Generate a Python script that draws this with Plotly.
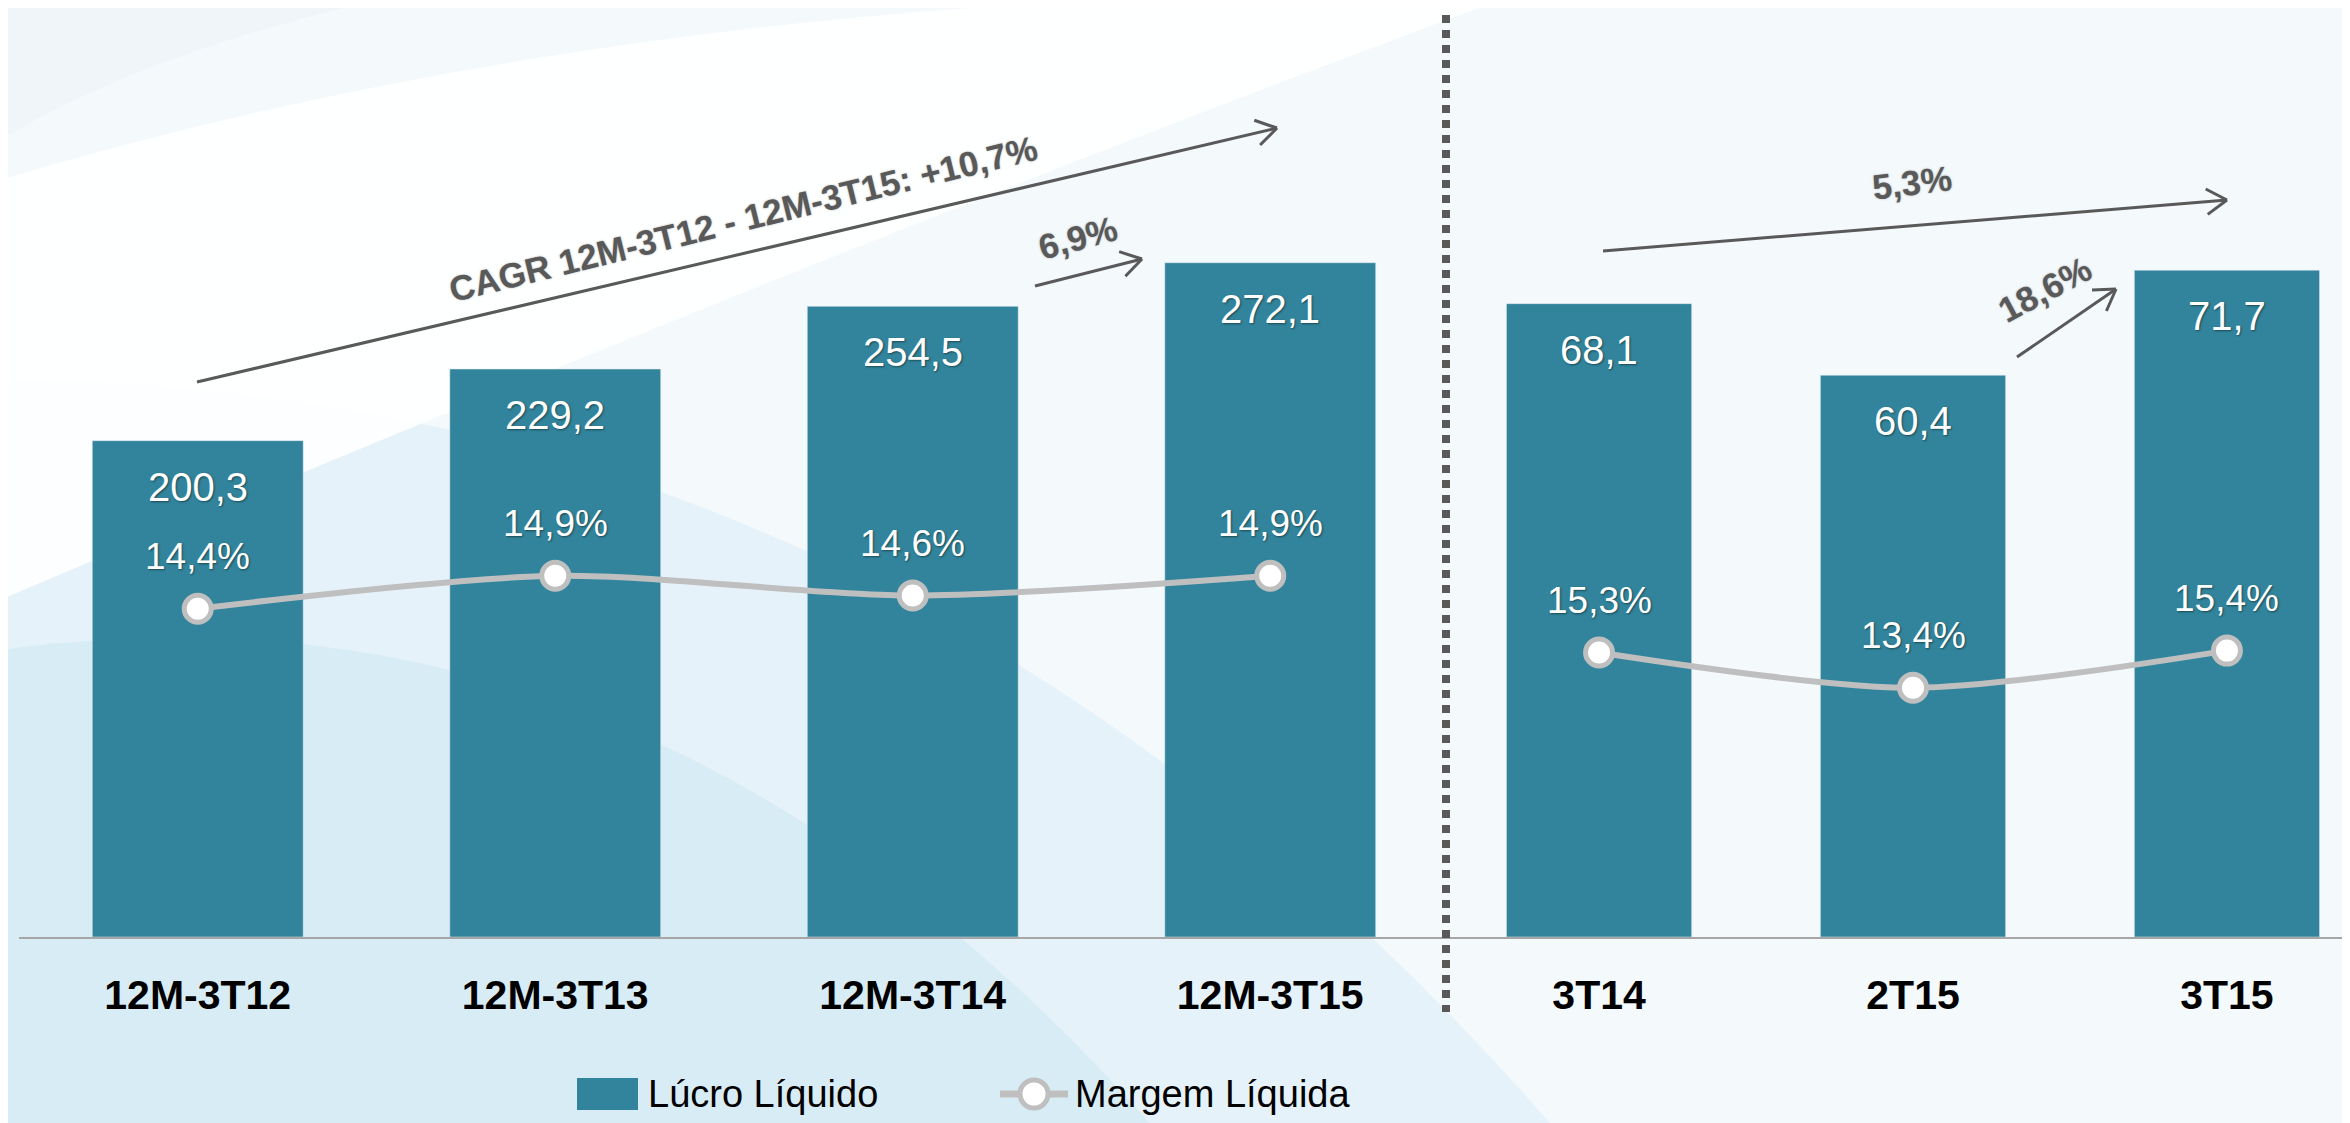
import math
import plotly.graph_objects as go

# ---------------- data ----------------
cats_12m = ["12M-3T12", "12M-3T13", "12M-3T14", "12M-3T15"]
lucro_12m = [200.3, 229.2, 254.5, 272.1]
margem_12m = [14.4, 14.9, 14.6, 14.9]

cats_tri = ["3T14", "2T15", "3T15"]
lucro_tri = [68.1, 60.4, 71.7]
margem_tri = [15.3, 13.4, 15.4]

growth_labels = ["CAGR 12M-3T12 - 12M-3T15: +10,7%", "6,9%", "5,3%", "18,6%"]
legend_names = ["Lúcro Líquido", "Margem Líquida"]

# ---------------- styling ----------------
OFF = 8                        # page body margin
W, H = 2350 - OFF, 1123 - OFF  # figure size
TOP, BASE = 60, 937            # plot top / baseline in page px
PH = BASE - TOP
BAR_COLOR = "#31849b"
LINE_COLOR = "#bfbfbf"
GRAY_TXT = "#595959"
FONT = "Liberation Sans, Arial, sans-serif"


def fmt(v, pct=False):
    s = f"{v:.1f}".replace(".", ",")
    return s + "%" if pct else s


def px2p(x, y):
    """page px -> paper coords"""
    return (x - OFF) / W, (BASE - y) / PH


fig = go.Figure()
line_style = dict(color=LINE_COLOR, width=6, shape="spline", smoothing=0.8)
marker_style = dict(size=27, color="white", line=dict(color=LINE_COLOR, width=5))

fig.add_trace(go.Bar(x=cats_12m, y=lucro_12m, marker_color=BAR_COLOR,
                     name=legend_names[0], xaxis="x", yaxis="y", showlegend=False))
fig.add_trace(go.Scatter(x=cats_12m, y=margem_12m, mode="lines+markers",
                         name=legend_names[1], xaxis="x", yaxis="y2", showlegend=False,
                         line=line_style, marker=marker_style))
fig.add_trace(go.Bar(x=cats_tri, y=lucro_tri, marker_color=BAR_COLOR,
                     name=legend_names[0], xaxis="x2", yaxis="y3", showlegend=False))
fig.add_trace(go.Scatter(x=cats_tri, y=margem_tri, mode="lines+markers",
                         name=legend_names[1], xaxis="x2", yaxis="y4", showlegend=False,
                         line=line_style, marker=marker_style))

split = (1449 - OFF) / W
axis_common = dict(showgrid=False, zeroline=False, showline=True, linecolor="#a6a6a6",
                   linewidth=2, ticks="", ticklabelstandoff=21,
                   tickfont=dict(family=FONT, size=41, color="black", weight="bold"))
yhide = dict(showgrid=False, zeroline=False, showline=False, showticklabels=False)

fig.update_layout(
    width=W, height=H,
    margin=dict(l=0, r=0, t=TOP - OFF, b=H - (BASE - OFF)),
    paper_bgcolor="#f4f9fc", plot_bgcolor="rgba(0,0,0,0)",
    bargap=0.41,
    xaxis=dict(domain=[(19 - OFF) / W, split], range=[-0.5, 3.5], **axis_common),
    xaxis2=dict(domain=[split, 1.0], range=[-0.478, 2.392], **axis_common),
    yaxis=dict(anchor="x", range=[0, PH / 2.478], **yhide),
    yaxis2=dict(anchor="x", overlaying="y", range=[9.41, 22.74], **yhide),
    yaxis3=dict(anchor="x2", range=[0, PH / 9.30], **yhide),
    yaxis4=dict(anchor="x2", overlaying="y3", range=[0, 47.16], **yhide),
    showlegend=False,
)

# ---------------- value labels ----------------
shadow = "1px 1px 2px rgba(0,0,0,0.45)"
ann = []
for xs, ys, xr, yr in ((cats_12m, lucro_12m, "x", "y"), (cats_tri, lucro_tri, "x2", "y3")):
    for c, v in zip(xs, ys):
        ann.append(dict(x=c, y=v, xref=xr, yref=yr, text=fmt(v), showarrow=False,
                        yshift=-46, font=dict(family=FONT, size=40, color="white", shadow=shadow)))
for xs, ys, xr, yr in ((cats_12m, margem_12m, "x", "y2"), (cats_tri, margem_tri, "x2", "y4")):
    for c, v in zip(xs, ys):
        ann.append(dict(x=c, y=v, xref=xr, yref=yr, text=fmt(v, True), showarrow=False,
                        yshift=52, font=dict(family=FONT, size=37, color="white", shadow=shadow)))

# growth annotations (text centre px, angle)
g_pos = [(743, 218, -13.7), (1078, 238, -15), (1912, 182, -7), (2044, 289, -28)]
for t, (gx, gy, ang) in zip(growth_labels, g_pos):
    px, py = px2p(gx, gy)
    ann.append(dict(x=px, y=py, xref="paper", yref="paper", text=t, showarrow=False,
                    textangle=ang, xanchor="center", yanchor="middle",
                    font=dict(family=FONT, size=35, color=GRAY_TXT, weight="bold",
                              shadow="0px 0px 2px rgba(90,90,90,0.5)")))

# manual legend texts
lx, ly = px2p(646, 1094)
ann.append(dict(x=lx, y=ly, xref="paper", yref="paper", text=legend_names[0], showarrow=False,
                xanchor="left", yanchor="middle", font=dict(family=FONT, size=38, color="black")))
lx, ly = px2p(1073, 1094)
ann.append(dict(x=lx, y=ly, xref="paper", yref="paper", text=legend_names[1], showarrow=False,
                xanchor="left", yanchor="middle", font=dict(family=FONT, size=38, color="black")))
fig.update_layout(annotations=ann)

# ---------------- shapes ----------------
shapes = []


def bg_path(cmds, color, opacity):
    s = ""
    for letter, pts in cmds:
        s += letter
        s += " ".join(f"{px2p(x, y)[0]:.4f},{px2p(x, y)[1]:.4f}" for x, y in pts) + " "
    s += "Z"
    shapes.append(dict(type="path", path=s, xref="paper", yref="paper", layer="below",
                       fillcolor=color, opacity=opacity, line=dict(width=0)))


# soft background swooshes
bg_path([("M", [(0, 380)]), ("Q", [(900, 380), (1550, 1123)]), ("L", [(0, 1123)])], "#e4f1f8", 0.9)
bg_path([("M", [(0, 650)]), ("Q", [(650, 560), (1150, 1123)]), ("L", [(0, 1123)])], "#d6ebf5", 0.9)
bg_path([("M", [(0, 0)]), ("L", [(380, 0)]), ("Q", [(150, 50), (0, 140)])], "#eef4f8", 0.8)
bg_path([("M", [(0, 180)]), ("Q", [(500, 30), (1100, 0)]), ("L", [(1500, 0)]),
         ("Q", [(800, 260), (0, 600)])], "#ffffff", 0.9)

# dotted separator
sx, sy0 = px2p(1446, 15)
_, sy1 = px2p(1446, 1012)
shapes.append(dict(type="line", xref="paper", yref="paper", x0=sx, x1=sx, y0=sy0, y1=sy1,
                   line=dict(color=GRAY_TXT, width=8, dash="8px,7px")))


def seg(x0, y0, x1, y1, color, width):
    a0, b0 = px2p(x0, y0)
    a1, b1 = px2p(x1, y1)
    shapes.append(dict(type="line", xref="paper", yref="paper", x0=a0, y0=b0, x1=a1, y1=b1,
                       line=dict(color=color, width=width)))


def arrow(x0, y0, x1, y1, head=24, spread=32):
    seg(x0, y0, x1, y1, GRAY_TXT, 3)
    ang = math.atan2(y1 - y0, x1 - x0)
    for s in (-1, 1):
        t = ang + math.pi + s * math.radians(spread)
        seg(x1 + head * math.cos(t), y1 + head * math.sin(t), x1, y1, GRAY_TXT, 3)


arrow(197, 382, 1277, 128)
arrow(1035, 286, 1142, 259)
arrow(1603, 251, 2227, 200)
arrow(2017, 357, 2116, 289)

# manual legend symbols
r0x, r0y = px2p(577, 1078)
r1x, r1y = px2p(638, 1110)
shapes.append(dict(type="rect", xref="paper", yref="paper", x0=r0x, y0=r0y, x1=r1x, y1=r1y,
                   fillcolor=BAR_COLOR, line=dict(width=0)))
seg(1000, 1094, 1068, 1094, LINE_COLOR, 7)
c0x, c0y = px2p(1020, 1080)
c1x, c1y = px2p(1048, 1108)
shapes.append(dict(type="circle", xref="paper", yref="paper", x0=c0x, y0=c0y, x1=c1x, y1=c1y,
                   fillcolor="white", line=dict(color=LINE_COLOR, width=5)))

fig.update_layout(shapes=shapes)

fig.write_html("out.html")
